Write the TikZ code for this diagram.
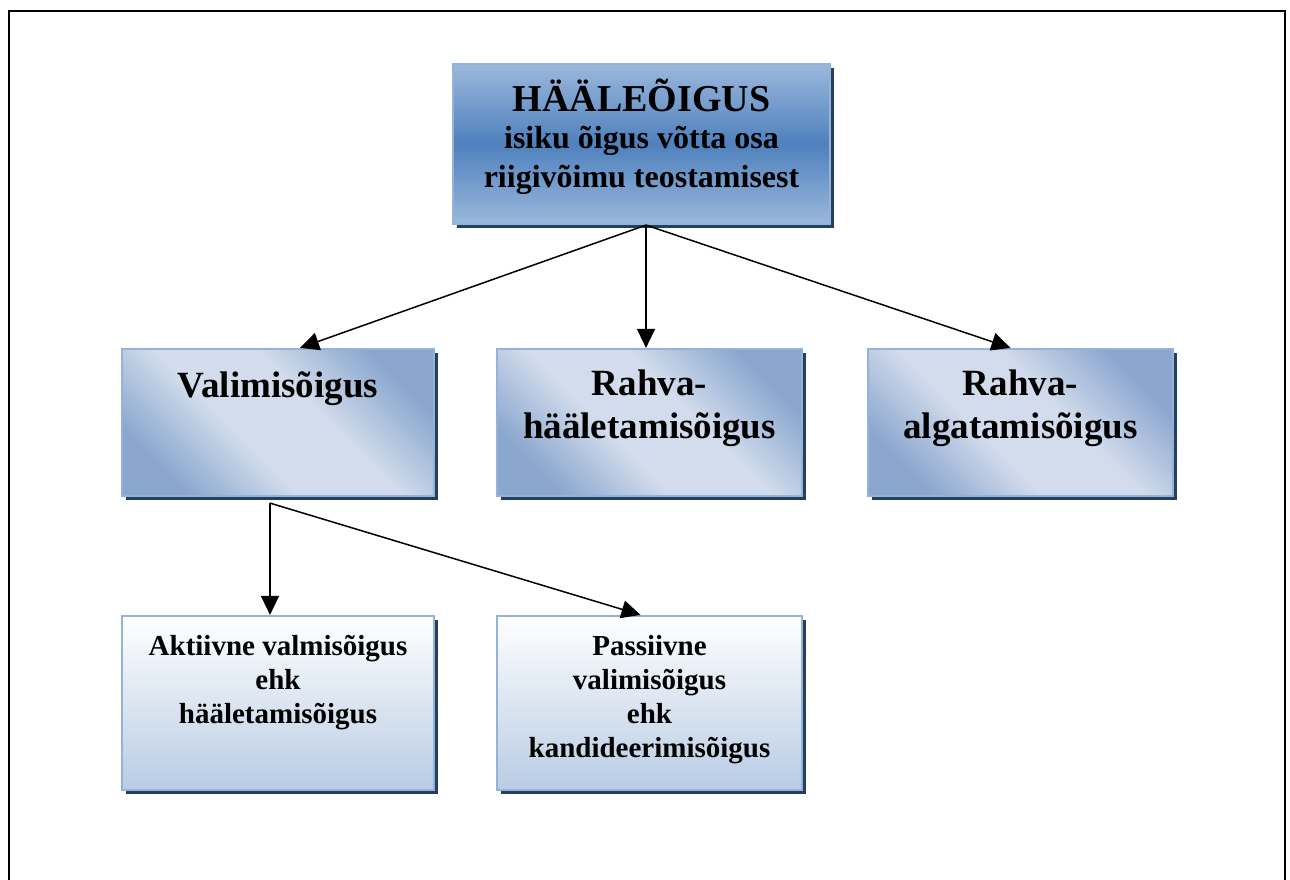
\documentclass[tikz,border=0pt]{standalone}
\usepackage{fontspec}
\setmainfont{Liberation Serif}
\usetikzlibrary{arrows.meta,shadows}

\definecolor{edgeblue}{HTML}{95B3D7}
\definecolor{shadownavy}{HTML}{243F60}
\definecolor{deepblue}{HTML}{4F81BD}
\definecolor{paleblue}{HTML}{9BB8DC}
\definecolor{midblue}{HTML}{8BA7CF}
\definecolor{lightband}{HTML}{D2DCEC}
\definecolor{softblue}{HTML}{B8CCE4}

% broad light band across the second-level boxes
\pgfdeclareverticalshading{midglow}{100bp}{%
  color(0bp)=(midblue); color(25bp)=(midblue);
  color(42bp)=(lightband); color(58bp)=(lightband);
  color(75bp)=(midblue); color(100bp)=(midblue)}

\tikzset{
  boxbase/.style={rectangle, inner sep=0pt, draw=edgeblue, line width=2.2pt,
    drop shadow={shadow xshift=4pt, shadow yshift=-4pt, fill=shadownavy, opacity=1}},
  rootbox/.style={boxbase, top color=paleblue, bottom color=paleblue, middle color=deepblue},
  midbox/.style={boxbase, shading=midglow, shading angle=-45},
  leafbox/.style={boxbase, top color=white, bottom color=softblue},
  txt/.style={anchor=base, inner sep=0pt, font=\bfseries},
  big/.style={txt, font=\bfseries\fontsize{38}{44}\selectfont},
  sub/.style={txt, font=\bfseries\fontsize{32}{38}\selectfont},
  mid/.style={txt, font=\bfseries\fontsize{37}{43}\selectfont},
  small/.style={txt, font=\bfseries\fontsize{29}{34}\selectfont},
  link/.style={line width=1.5pt, -{Triangle[length=19pt,width=18pt]}},
  frameline/.style={line width=2pt, draw=black}
}

\begin{document}
\begin{tikzpicture}[x=1pt, y=-1pt]
  \useasboundingbox (0,0) rectangle (1290,880);
  % outer frame, open at the lower edge of the page
  \draw[frameline] (9,900) -- (9,11) -- (1285,11) -- (1285,900);

  % boxes
  \node[rootbox, minimum width=377pt, minimum height=160pt] (root) at (641.5,144) {};
  \node[midbox, minimum width=312pt, minimum height=147pt] (valim) at (278,422.5) {};
  \node[midbox, minimum width=305pt, minimum height=147pt] (haal) at (649.5,422.5) {};
  \node[midbox, minimum width=305pt, minimum height=147pt] (alga) at (1020.5,422.5) {};
  \node[leafbox, minimum width=312pt, minimum height=174pt] (aktiiv) at (278,703) {};
  \node[leafbox, minimum width=305pt, minimum height=174pt] (passiiv) at (649.5,703) {};

  % texts
  \node[big] (r1) at (641.5,112) {HÄÄLEÕIGUS};
  \node[sub] (r2) at (641.5,149) {isiku õigus võtta osa};
  \node[sub] (r3) at (641.5,187) {riigivõimu teostamisest};

  \node[mid] (v1) at (278,397) {Valimisõigus};
  \node[mid] (h1) at (649.5,395) {Rahva-};
  \node[mid] (h2) at (649.5,438) {hääletamisõigus};
  \node[mid] (a1) at (1020.5,395) {Rahva-};
  \node[mid] (a2) at (1020.5,438) {algatamisõigus};

  \node[small] (k1) at (278,655) {Aktiivne valmisõigus};
  \node[small] (k2) at (278,689) {ehk};
  \node[small] (k3) at (278,723) {hääletamisõigus};

  \node[small] (p1) at (649.5,655) {Passiivne};
  \node[small] (p2) at (649.5,689) {valimisõigus};
  \node[small] (p3) at (649.5,723) {ehk};
  \node[small] (p4) at (649.5,757) {kandideerimisõigus};

  % connector ends
  \coordinate (hub) at ([xshift=4.5pt]root.south);
  \coordinate (valimIn) at ([xshift=22pt]valim.north);
  \coordinate (haalIn) at ([xshift=-3.5pt]haal.north);
  \coordinate (algaIn) at ([xshift=-10pt]alga.north);
  \coordinate (valimOut) at ([xshift=-8pt,yshift=-6pt]valim.south);
  \coordinate (aktiivIn) at ([xshift=-8pt]aktiiv.north);
  \coordinate (passiivIn) at ([xshift=-9pt]passiiv.north);

  % connectors
  \draw[link] (hub) -- (valimIn);
  \draw[link] (hub) -- (haalIn);
  \draw[link] (hub) -- (algaIn);
  \draw[link] (valimOut) -- (aktiivIn);
  \draw[link] (valimOut) -- (passiivIn);
\end{tikzpicture}
\end{document}
